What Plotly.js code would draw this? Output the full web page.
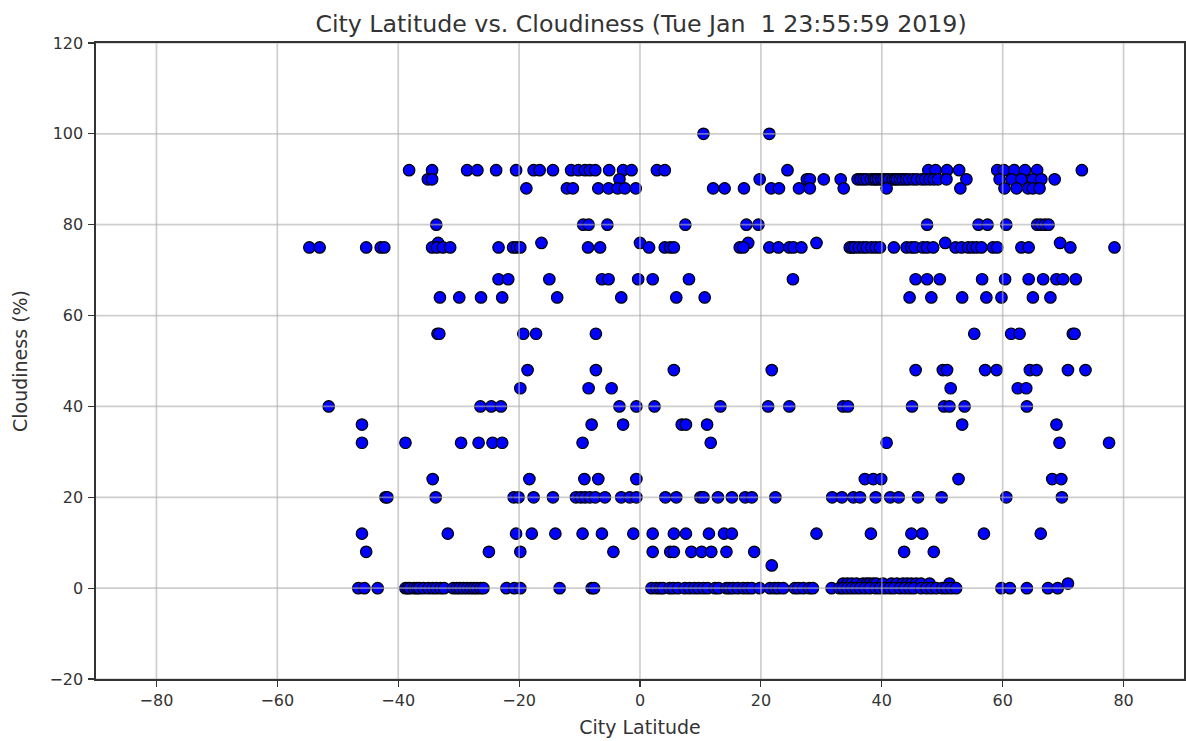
<!DOCTYPE html>
<html><head><meta charset="utf-8">
<script src="https://cdn.plot.ly/plotly-3.0.1.min.js"></script>
<style>html,body{margin:0;padding:0;background:#fff}#chart{width:1186px;height:741px}</style>
</head><body><div id="chart"></div>
<script>
const cloud100=[10.5,21.4];
const cloud92=[-38.2,-34.4,-28.6,-26.9,-23.8,-20.5,-17.6,-16.6,-14.4,-11.4,-10.2,-9.1,-8.3,-7.4,-5.1,-2.8,-1.4,2.8,4.1,24.4,47.7,48.9,50.8,52.8,59.1,60.2,61.9,63.7,65.7,73.1];
const cloud90=[-35.1,-34.4,-3.4,19.8,27.6,28.1,30.4,33.2,36,36.5,37,37.5,38.2,38.7,39,39.4,39.9,40.3,40.8,41.2,41.8,42.2,42.5,43,43.5,44,44.5,45.2,45.8,46.6,47.2,47.9,48.6,49.3,50.7,54,59.5,61.5,63.1,65,66.4,68.6];
const cloud88=[-18.8,-12.1,-11.1,-6.9,-5.2,-3.7,-2.5,-0.7,12.1,14,17.2,21.7,23,26.3,28.1,33.7,40.8,53,60.3,62.3,64.2,65,66.1];
const cloud80=[-33.7,-9.4,-8.5,-5.4,7.5,17.6,19.6,47.5,56,57.5,60.6,65.7,66.3,67,67.6];
const cloud76=[-33.4,-16.3,0,17.9,29.2,50.5,69.5];
const cloud75=[-54.7,-53,-45.3,-42.9,-42.3,-34.4,-33.6,-32.6,-31.4,-23.4,-21,-20.4,-19.8,-8.6,-6.6,1.5,4.1,5,5.6,16.5,17.1,21.4,22.9,24.7,25.4,26.7,34.7,35.1,35.5,36.2,36.9,37.5,38.3,39,39.7,42,44.1,44.9,45.5,46.8,47.5,48.5,52.2,53.2,54.3,55,55.7,56.5,58.4,59.1,63.1,64.3,71.2,78.5];
const cloud68=[-23.4,-21.8,-15,-6.3,-5.2,-0.3,2.1,8.1,25.3,45.6,47.5,49.6,56.6,60.4,64.3,66.7,68.9,70,72.1];
const cloud64=[-33.1,-29.9,-26.3,-22.8,-13.7,-3.1,6,10.7,44.6,48.2,53.3,57.3,59.8,65,67.9];
const cloud56=[-33.5,-33.2,-19.3,-17.2,-7.3,55.3,61.4,62.8,71.6,71.9];
const cloud48=[-18.6,-7.3,5.6,21.8,45.6,50.1,50.8,57.1,59,64.5,65.6,70.8,73.7];
const cloud44=[-19.8,-8.5,-4.7,51.4,62.5,63.9];
const cloud40=[-51.5,-26.4,-24.6,-23,-3.4,-0.6,2.4,13.3,21.2,24.7,33.6,34.4,45,50.3,51.2,53.7,64];
const cloud36=[-46,-8,-2.8,6.9,7.6,11.1,53.3,68.9];
const cloud32=[-46,-38.8,-29.6,-26.7,-24.4,-22.8,-9.5,11.7,40.8,69.4,77.6];
const cloud24=[-34.3,-18.3,-9.2,-6.9,-0.6,37.2,38.6,39.9,52.7,68.2,69.7];
const cloud20=[-42.1,-41.8,-33.8,-20.9,-20.1,-17.6,-14.4,-10.6,-9.8,-9.1,-8.3,-7.4,-5.8,-3.1,-1.7,-0.6,4.2,6,10,10.5,12.9,15.2,17.4,18.5,22.4,31.8,33.4,35.3,36.4,39,41.4,42.8,46,49.9,60.6,69.8];
const cloud12=[-46,-31.8,-20.5,-17.9,-14,-9.5,-6.3,-1.1,2.1,5.6,7.6,11.4,13.9,15.2,29.2,38.2,44.9,46.7,56.9,66.3];
const cloud8=[-45.3,-25,-19.8,-4.4,2.1,5,5.6,8.5,10.2,11.8,14.3,18.9,43.7,48.6];
const cloud5=[21.8];
const cloud1=[33.6,34.3,35,35.8,36.9,37.5,38,38.6,39.1,40.2,41.6,42.5,43.5,44.2,44.9,45.7,46.5,47.9,51.2,70.8];
const cloud0=[-46.6,-45.6,-43.4,-38.8,-38.4,-38.1,-37.4,-36.9,-36.5,-35.8,-35,-34.3,-33.7,-33,-32.4,-30.9,-30.3,-29.8,-29.2,-28.6,-28,-27.5,-27,-26.4,-25.9,-22.1,-20.8,-19.8,-13.3,-8,-7.6,1.9,2.7,3.3,3.8,4.9,5.5,6.3,7.4,8.2,9,9.7,10.5,11.2,12.4,13,14.3,14.8,15.4,16.2,17.1,17.8,18.5,19.8,21.5,22.3,22.9,23.7,25.6,26.2,27,28,28.6,31.7,33,33.6,34.3,35,35.7,36.4,37.2,38,39,39.7,40.5,41.3,42,43,43.8,44.6,45.3,46.5,47.4,48.2,49,50,50.7,51.5,52.3,59.8,61.2,64,67.5,69.1];

const levels=[[100,cloud100],[92,cloud92],[90,cloud90],[88,cloud88],[80,cloud80],[76,cloud76],[75,cloud75],[68,cloud68],[64,cloud64],[56,cloud56],[48,cloud48],[44,cloud44],[40,cloud40],[36,cloud36],[32,cloud32],[24,cloud24],[20,cloud20],[12,cloud12],[8,cloud8],[5,cloud5],[1,cloud1],[0,cloud0]];
const xTicks=[-80,-60,-40,-20,0,20,40,60,80];
const yTicks=[-20,0,20,40,60,80,100,120];
const xRange=[-90,90], yRange=[-20,120];

const xs=[],ys=[];
levels.forEach(([c,arr])=>arr.forEach(v=>{xs.push(v);ys.push(c);}));

const gridStyle={color:'rgba(176,176,176,0.62)',width:1.7};
const shapes=[
 ...xTicks.map(t=>({type:'line',layer:'above',xref:'x',yref:'y',x0:t,x1:t,y0:yRange[0],y1:yRange[1],line:gridStyle})),
 ...yTicks.map(t=>({type:'line',layer:'above',xref:'x',yref:'y',x0:xRange[0],x1:xRange[1],y0:t,y1:t,line:gridStyle}))
];
const axisCommon={showline:true,mirror:true,linecolor:'#333',linewidth:1.6,ticks:'outside',ticklen:6,tickwidth:1.2,tickcolor:'#333',
 showgrid:false,zeroline:false,automargin:false,tickfont:{size:16,color:'#333'}};
Plotly.newPlot('chart',[{
  type:'scatter',mode:'markers',x:xs,y:ys,cliponaxis:true,
  marker:{color:'#0000ff',size:11.5,line:{color:'#000',width:1.2}}
}],{
  width:1186,height:741,showlegend:false,paper_bgcolor:'#fff',plot_bgcolor:'#fff',
  font:{family:'DejaVu Sans',color:'#333'},
  margin:{l:96,r:1.5,t:43,b:62,pad:0},
  title:{text:'City Latitude vs. Cloudiness (Tue Jan  1 23:55:59 2019)',font:{size:23.7,color:'#333'},x:0.5405,xanchor:'center',y:0.968,yanchor:'middle'},
  xaxis:{...axisCommon,range:xRange,tickmode:'array',tickvals:xTicks,ticktext:xTicks.map(t=>t<0?'\u2212'+(-t):''+t),title:{text:'City Latitude',font:{size:19,color:'#333'},standoff:12}},
  yaxis:{...axisCommon,range:yRange,tickmode:'array',tickvals:yTicks,ticktext:yTicks.map(t=>t<0?'\u2212'+(-t):''+t),ticklabelstandoff:2,title:{text:'Cloudiness (%)',font:{size:19,color:'#333'},standoff:17}},
  shapes
},{displayModeBar:false,staticPlot:true});
</script></body></html>
